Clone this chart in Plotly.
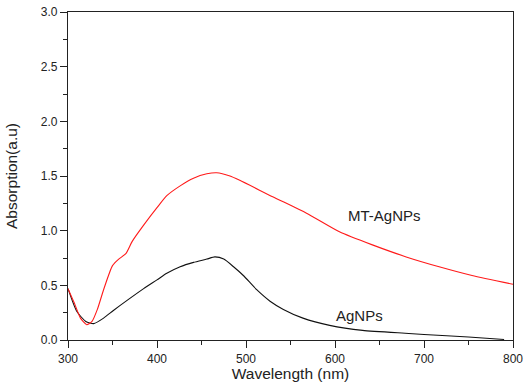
import plotly.graph_objects as go

# MT-AgNPs (red)
wl_mt = [300, 307, 314, 321, 327, 333, 340, 350, 357, 365, 372, 385, 400, 411, 426,
         441, 456, 467, 482, 493, 530, 568, 605, 642, 680, 717, 754, 800]
abs_mt = [0.47, 0.34, 0.20, 0.14, 0.17, 0.28, 0.46, 0.68, 0.74, 0.79, 0.90, 1.05, 1.21, 1.32, 1.41,
          1.48, 1.52, 1.53, 1.50, 1.46, 1.31, 1.16, 0.99, 0.87, 0.76, 0.67, 0.59, 0.51]

# AgNPs (black)
wl_ag = [300, 310, 320, 329, 340, 351, 366, 385, 400, 411, 426, 441, 456, 465, 475,
         486, 497, 512, 527, 542, 564, 594, 631, 683, 700, 750, 790]
abs_ag = [0.47, 0.26, 0.17, 0.15, 0.20, 0.27, 0.36, 0.47, 0.55, 0.61, 0.67, 0.71, 0.74, 0.76, 0.74,
          0.67, 0.59, 0.46, 0.355, 0.28, 0.20, 0.134, 0.088, 0.06, 0.05, 0.028, 0.005]

x_ticks = [300, 400, 500, 600, 700, 800]
y_ticks = [0.0, 0.5, 1.0, 1.5, 2.0, 2.5, 3.0]
y_tick_labels = ["0.0", "0.5", "1.0", "1.5", "2.0", "2.5", "3.0"]

font_family = "Liberation Sans, Arial, sans-serif"

fig = go.Figure()
fig.add_trace(go.Scatter(x=wl_ag, y=abs_ag, mode="lines", name="AgNPs",
                         line=dict(color="#111111", width=1.1, shape="spline", smoothing=0.6)))
fig.add_trace(go.Scatter(x=wl_mt, y=abs_mt, mode="lines", name="MT-AgNPs",
                         line=dict(color="#ff1a1a", width=1.1, shape="spline", smoothing=0.6)))

fig.add_annotation(x=656, y=1.14, text="MT-AgNPs", showarrow=False,
                   font=dict(family=font_family, size=15, color="#222222"))
fig.add_annotation(x=628, y=0.22, text="AgNPs", showarrow=False,
                   font=dict(family=font_family, size=15, color="#222222"))

axis_common = dict(
    showline=True, linecolor="#222222", linewidth=1.2, mirror=True,
    ticks="outside", ticklen=7, tickwidth=1.1, tickcolor="#222222",
    showgrid=False, zeroline=False, automargin=False, ticklabeloverflow="allow",
    tickfont=dict(family=font_family, size=12, color="#222222"),
)

fig.update_xaxes(range=[300, 800], tickvals=x_ticks,
                 minor=dict(ticks="outside", ticklen=4, dtick=50, tick0=300, tickcolor="#222222"),
                 title=dict(text="Wavelength (nm)", font=dict(family=font_family, size=15.5, color="#222222"),
                            standoff=3),
                 **axis_common)
fig.update_yaxes(range=[0, 3.0], tickvals=y_ticks, ticktext=y_tick_labels,
                 minor=dict(ticks="outside", ticklen=4, dtick=0.25, tick0=0, tickcolor="#222222"),
                 title=dict(text="Absorption(a.u)", font=dict(family=font_family, size=15.5, color="#222222"),
                            standoff=19),
                 **axis_common)

fig.update_layout(
    width=529, height=390,
    margin=dict(l=68, r=16, t=12, b=50),
    plot_bgcolor="white", paper_bgcolor="white",
    showlegend=False,
)

# remove the page's default 8px body margin so the figure fills the window exactly
fig.write_html("out.html", config={"displayModeBar": False},
               post_script="document.body.style.margin='0';")
